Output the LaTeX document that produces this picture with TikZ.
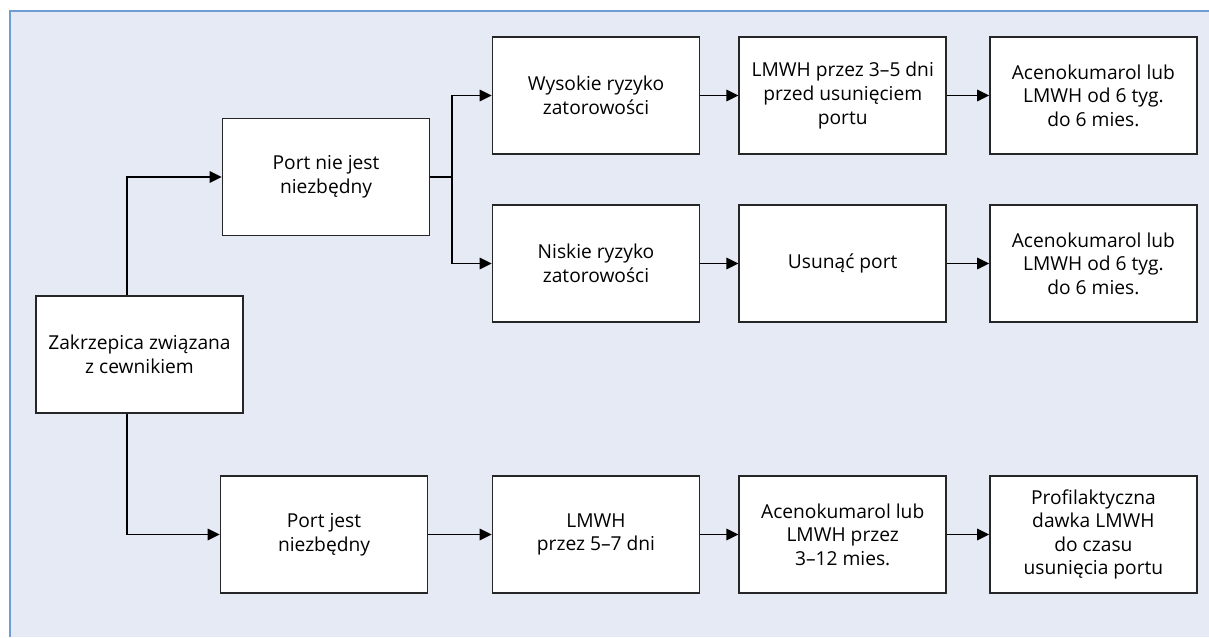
\documentclass[tikz,border=0pt]{standalone}
\usepackage{fontspec}
\setmainfont{Open Sans}
\usetikzlibrary{arrows.meta,positioning}
\definecolor{panelfill}{RGB}{230,234,245}
\definecolor{panelline}{RGB}{112,156,212}

\begin{document}
\begin{tikzpicture}[
  x=0.5pt, y=-0.5pt,
  font=\fontsize{9.6}{11.8}\selectfont,
  node distance=19pt and 21pt,
  box/.style={draw=black!85, line width=0.85pt, fill=white, rectangle,
    minimum width=103.5pt, minimum height=58.5pt, inner sep=0pt, align=center},
  arr/.style={-{Triangle[length=6pt,width=5.8pt]}, line width=0.7pt}
]
\useasboundingbox (0,0) rectangle (1209,637);
\fill[panelfill] (10,11) rectangle (1209,637);
\draw[panelline, line width=0.6pt] (1209,11) -- (10,11) -- (10,637);

\node[box] (zak) at (139.5,354.5) {Zakrzepica związana\\z cewnikiem};
\node[box] (pnie) at (326,177) {Port nie jest\\niezbędny};
\node[box] (pjest) at (324,534.5) {Port jest\\niezbędny};

\node[box] (wys) at (596,95.5) {Wysokie ryzyko\\zatorowości};
\node[box, right=19pt of wys] (lmwh1) {LMWH przez 3–5 dni\\przed usunięciem\\portu};
\node[box, right=21pt of lmwh1] (acen1) {Acenokumarol lub\\LMWH od 6 tyg.\\do 6 mies.};

\node[box] (nis) at (596,263.5) {Niskie ryzyko\\zatorowości};
\node[box, right=19pt of nis] (usun) {Usunąć port};
\node[box, right=21pt of usun] (acen2) {Acenokumarol lub\\LMWH od 6 tyg.\\do 6 mies.};

\node[box] (lmwh2) at (596,534.5) {LMWH\\przez 5–7 dni};
\node[box, right=19pt of lmwh2] (acen3) {Acenokumarol lub\\LMWH przez\\3–12 mies.};
\node[box, right=21pt of acen3] (prof) {Profilaktyczna\\dawka LMWH\\do czasu\\usunięcia portu};

\coordinate (trunk) at (127,354.5);
\coordinate (split) at (452,177);

\draw[arr] (trunk |- zak.north) |- (pnie);
\draw[arr] (trunk |- zak.south) |- (pjest);
\draw[line width=0.7pt] (pnie) -- (split);
\draw[arr] (split) |- (wys);
\draw[arr] (split) |- (nis);

\draw[arr] (wys) -- (lmwh1);
\draw[arr] (lmwh1) -- (acen1);
\draw[arr] (nis) -- (usun);
\draw[arr] (usun) -- (acen2);
\draw[arr] (pjest) -- (lmwh2);
\draw[arr] (lmwh2) -- (acen3);
\draw[arr] (acen3) -- (prof);
\end{tikzpicture}
\end{document}
